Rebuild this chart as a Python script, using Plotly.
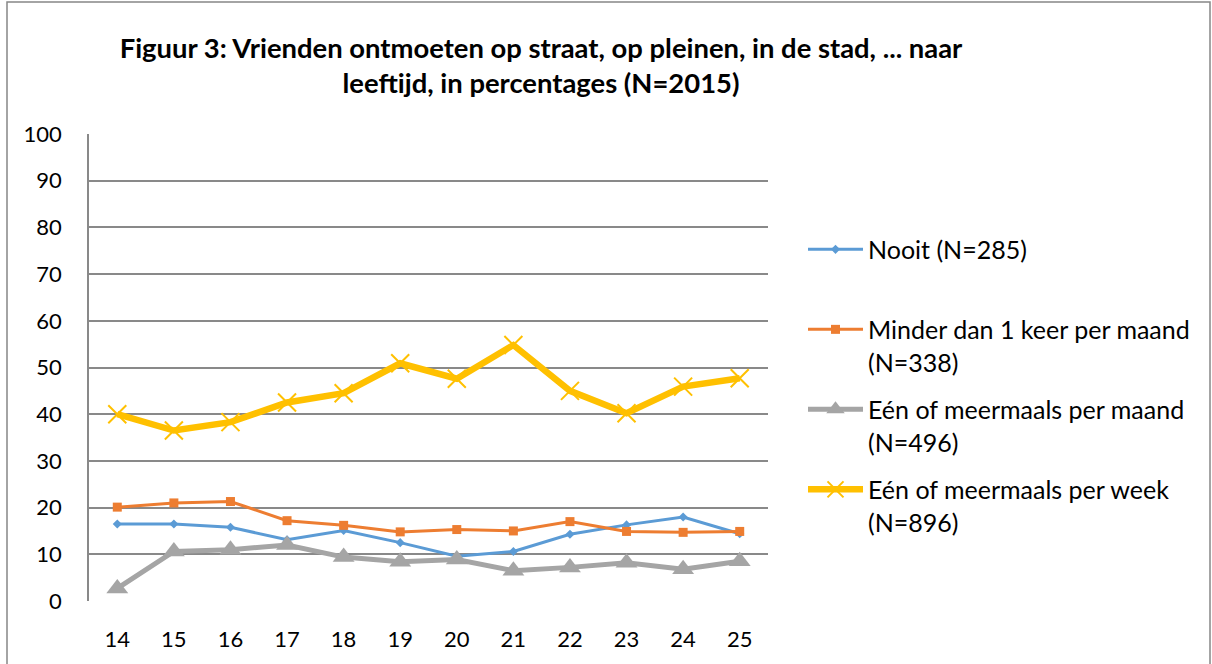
import plotly.graph_objects as go

ages = [14, 15, 16, 17, 18, 19, 20, 21, 22, 23, 24, 25]
nooit = [16.5, 16.5, 15.8, 13.1, 15.1, 12.5, 9.6, 10.6, 14.3, 16.3, 18.0, 14.4]
minder = [20.1, 21.0, 21.3, 17.2, 16.2, 14.8, 15.3, 15.0, 17.0, 14.9, 14.7, 14.9]
maand = [2.7, 10.6, 11.0, 12.0, 9.4, 8.4, 8.9, 6.5, 7.2, 8.2, 6.8, 8.5]
week = [40.0, 36.5, 38.3, 42.5, 44.5, 50.9, 47.6, 54.8, 45.0, 40.2, 45.9, 47.7]
y_ticks = [0, 10, 20, 30, 40, 50, 60, 70, 80, 90, 100]

names = [
    "Nooit (N=285)<br> ",
    "Minder dan 1 keer per maand<br>(N=338)",
    "Eén of meermaals per maand<br>(N=496)",
    "Eén of meermaals per week<br>(N=896)",
]

FONT = "Lato"

fig = go.Figure()
fig.add_trace(go.Scatter(
    x=ages, y=nooit, name=names[0], mode="lines+markers",
    line=dict(color="#5B9BD5", width=3),
    marker=dict(symbol="diamond", size=7, color="#5B9BD5"),
    legendgroup="a"))
fig.add_trace(go.Scatter(
    x=ages, y=minder, name=names[1], mode="lines+markers",
    line=dict(color="#ED7D31", width=3),
    marker=dict(symbol="square", size=9, color="#ED7D31"),
    legendgroup="b"))
fig.add_trace(go.Scatter(
    x=ages, y=maand, name=names[2], mode="lines+markers",
    line=dict(color="#A5A5A5", width=5),
    marker=dict(symbol="triangle-up", size=19, color="#A5A5A5"),
    legendgroup="c"))
fig.add_trace(go.Scatter(
    x=ages, y=week, name=names[3], mode="lines+markers",
    line=dict(color="#FFC000", width=6.5),
    marker=dict(symbol="x-thin", size=18, color="#FFC000",
                line=dict(color="#FFC000", width=2)),
    legendgroup="d"))

L, R, T, B = 89, 444, 134, 61
W, H = 1212, 664
pw = W - L - R
ph = H - T - B

fig.update_layout(
    width=W, height=H,
    margin=dict(l=L, r=R, t=T, b=B),
    paper_bgcolor="white", plot_bgcolor="white",
    font=dict(family=FONT, size=22, color="#000000"),
    title=dict(
        text="<b>Figuur 3: Vrienden ontmoeten op straat, op pleinen, in de stad, ... naar<br>leeftijd, in percentages (N=2015)</b>",
        x=(541 - L) / pw, xref="paper", xanchor="center",
        y=1 - 57.5 / H, yref="container", yanchor="middle",
        font=dict(family=FONT, size=27.4, color="#000000"),
    ),
    xaxis=dict(
        range=[13.5, 25.5], tickmode="array", tickvals=ages,
        ticktext=[str(a) for a in ages], showgrid=False, zeroline=False,
        showline=False, ticks="", ticklabelstandoff=23,
        tickfont=dict(family=FONT, size=22), fixedrange=True,
    ),
    yaxis=dict(
        range=[0, 100], tickmode="array", tickvals=y_ticks,
        showgrid=True, gridcolor="#898989", gridwidth=1.5,
        zeroline=False, showline=True, linecolor="#898989", linewidth=1.5,
        ticks="", ticklabelstandoff=21,
        tickfont=dict(family=FONT, size=22), fixedrange=True,
    ),
    showlegend=True,
    legend=dict(
        x=(803 - L) / pw, xanchor="left", xref="paper",
        y=(H - B - 227) / ph, yanchor="top", yref="paper",
        font=dict(family=FONT, size=25, color="#000000"),
        traceorder="grouped", tracegroupgap=12, valign="top",
        itemwidth=55,
        bgcolor="rgba(0,0,0,0)",
    ),
    shapes=[dict(
        type="rect", xref="paper", yref="paper",
        x0=(7 - L) / pw, x1=(1210 - L) / pw,
        y0=-0.5, y1=(H - B - 1.5) / ph,
        line=dict(color="#878787", width=1.5), fillcolor="rgba(0,0,0,0)",
        layer="below",
    )],
)

fig.write_html(
    "out.html",
    config={"displayModeBar": False},
    post_script="document.body.style.margin='0';document.body.style.overflow='hidden';",
)
